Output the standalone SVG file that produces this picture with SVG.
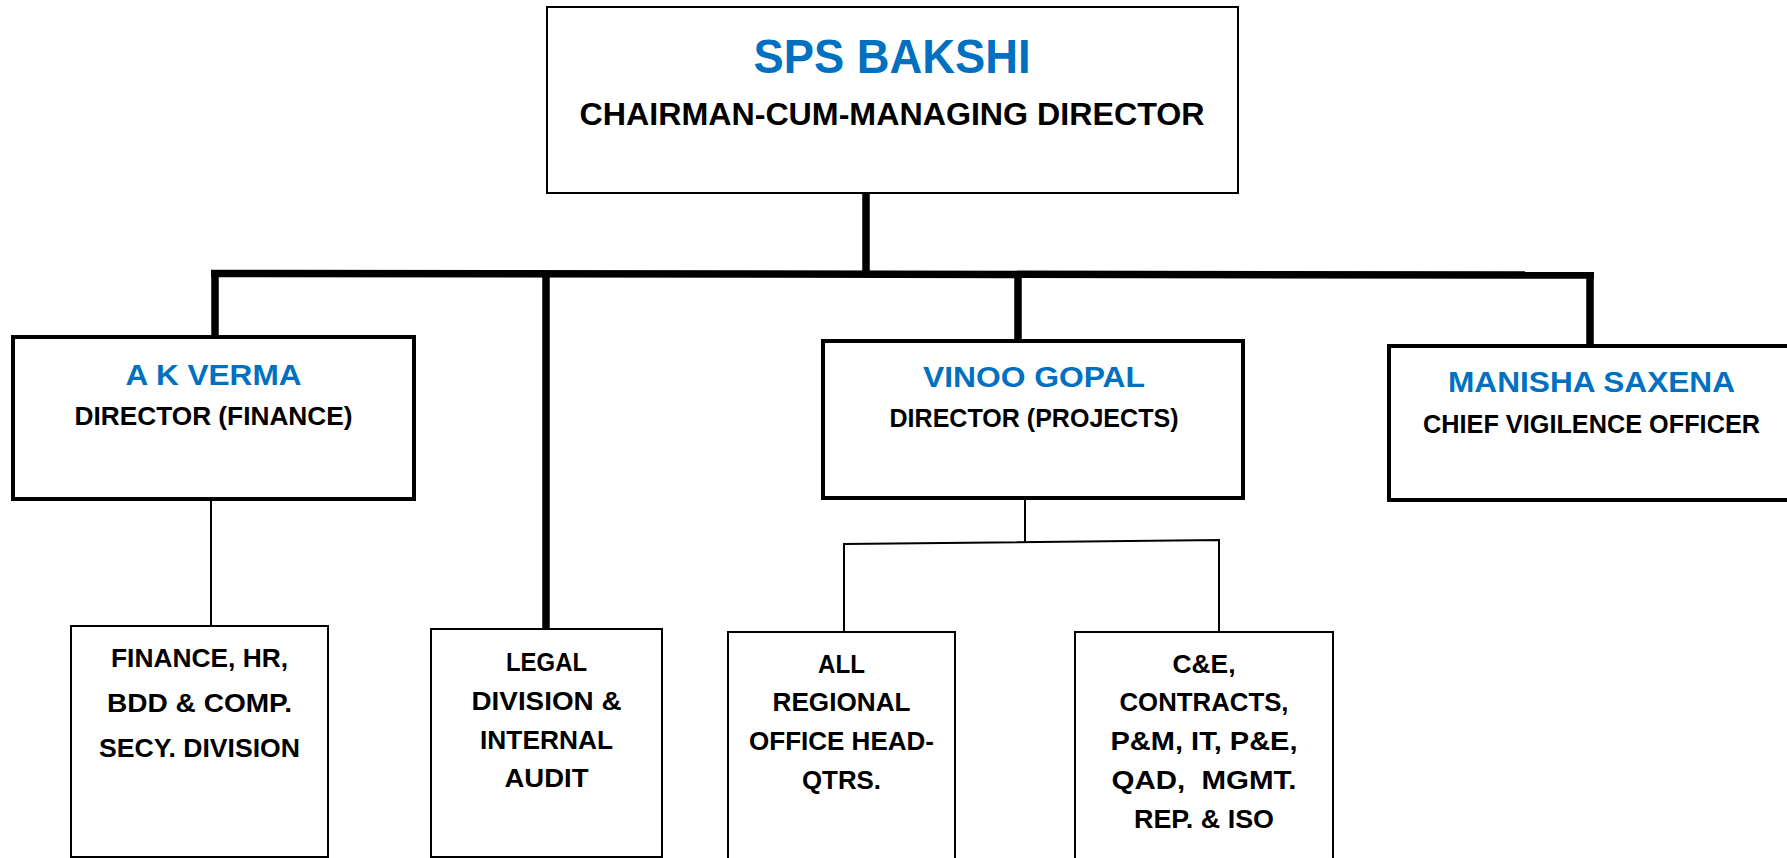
<svg xmlns="http://www.w3.org/2000/svg" width="1787" height="858" viewBox="0 0 1787 858">
<style>
  text { font-family: "Liberation Sans", Arial, sans-serif; font-weight: bold; text-anchor: middle; }
  .name { fill: #0070C0; }
  .title { fill: #000; }
  .sub { fill: #000; font-size: 26px; }
  .boxThin { fill: #fff; stroke: #000; stroke-width: 2; }
  .boxThick { fill: #fff; stroke: #000; stroke-width: 4; }
  .thick { stroke: #000; stroke-width: 7.5; fill: none; stroke-linecap: butt; }
  .thin { stroke: #000; stroke-width: 2; fill: none; }
</style>
<rect width="1787" height="858" fill="#fff"/>
<g id="connectors">
  <line class="thick" x1="866" y1="193" x2="866" y2="274"/>
  <line class="thick" x1="211" y1="273.5" x2="1594" y2="275"/>
  <line class="thick" x1="215" y1="273" x2="215" y2="337"/>
  <line class="thick" x1="546" y1="273" x2="546" y2="629"/>
  <line class="thick" x1="1018" y1="275" x2="1018" y2="341"/>
  <line class="thick" x1="1590" y1="275" x2="1590" y2="346"/>
  <line class="thin" x1="211" y1="499" x2="211" y2="626"/>
  <polyline class="thin" points="1025,498 1025,542"/>
  <polyline class="thin" points="844,632 844,544 1219,540 1219,632"/>
</g>
<g id="cmd">
  <rect class="boxThin" x="547" y="7" width="691" height="186"/>
  <text class="name" x="892" y="73" font-size="48" textLength="277" lengthAdjust="spacingAndGlyphs">SPS BAKSHI</text>
  <text class="title" x="892" y="125" font-size="32" textLength="625" lengthAdjust="spacingAndGlyphs">CHAIRMAN-CUM-MANAGING DIRECTOR</text>
</g>
<g id="dir-finance">
  <rect class="boxThick" x="13" y="337" width="401" height="162"/>
  <text class="name" x="213.5" y="385" font-size="29" textLength="176" lengthAdjust="spacingAndGlyphs">A K VERMA</text>
  <text class="title" x="213.5" y="425" font-size="26" textLength="278" lengthAdjust="spacingAndGlyphs">DIRECTOR (FINANCE)</text>
</g>
<g id="dir-projects">
  <rect class="boxThick" x="823" y="341" width="420" height="157"/>
  <text class="name" x="1034" y="387" font-size="29" textLength="222" lengthAdjust="spacingAndGlyphs">VINOO GOPAL</text>
  <text class="title" x="1034" y="427" font-size="26" textLength="289" lengthAdjust="spacingAndGlyphs">DIRECTOR (PROJECTS)</text>
</g>
<g id="cvo">
  <rect class="boxThick" x="1389" y="346" width="430" height="154"/>
  <text class="name" x="1591.5" y="392" font-size="30" textLength="287" lengthAdjust="spacingAndGlyphs">MANISHA SAXENA</text>
  <text class="title" x="1591.5" y="433" font-size="25" textLength="337" lengthAdjust="spacingAndGlyphs">CHIEF VIGILENCE OFFICER</text>
</g>
<g id="finance-div">
  <rect class="boxThin" x="71" y="626" width="257" height="231"/>
  <text class="sub" x="199.5" y="667" textLength="177" lengthAdjust="spacingAndGlyphs">FINANCE, HR,</text>
  <text class="sub" x="199.5" y="712" textLength="185" lengthAdjust="spacingAndGlyphs">BDD &amp; COMP.</text>
  <text class="sub" x="199.5" y="757" textLength="201" lengthAdjust="spacingAndGlyphs">SECY. DIVISION</text>
</g>
<g id="legal">
  <rect class="boxThin" x="431" y="629" width="231" height="228"/>
  <text class="sub" x="546.5" y="671" textLength="81" lengthAdjust="spacingAndGlyphs">LEGAL</text>
  <text class="sub" x="546.5" y="710" textLength="150" lengthAdjust="spacingAndGlyphs">DIVISION &amp;</text>
  <text class="sub" x="546.5" y="749" textLength="133" lengthAdjust="spacingAndGlyphs">INTERNAL</text>
  <text class="sub" x="546.5" y="787" textLength="84" lengthAdjust="spacingAndGlyphs">AUDIT</text>
</g>
<g id="regional">
  <rect class="boxThin" x="728" y="632" width="227" height="240"/>
  <text class="sub" x="841.5" y="673" textLength="47" lengthAdjust="spacingAndGlyphs">ALL</text>
  <text class="sub" x="841.5" y="711" textLength="138" lengthAdjust="spacingAndGlyphs">REGIONAL</text>
  <text class="sub" x="841.5" y="750" textLength="185" lengthAdjust="spacingAndGlyphs">OFFICE HEAD-</text>
  <text class="sub" x="841.5" y="789" textLength="79" lengthAdjust="spacingAndGlyphs">QTRS.</text>
</g>
<g id="ce">
  <rect class="boxThin" x="1075" y="632" width="258" height="240"/>
  <text class="sub" x="1204" y="673" textLength="63" lengthAdjust="spacingAndGlyphs">C&amp;E,</text>
  <text class="sub" x="1204" y="711" textLength="169" lengthAdjust="spacingAndGlyphs">CONTRACTS,</text>
  <text class="sub" x="1204" y="750" textLength="187" lengthAdjust="spacingAndGlyphs">P&amp;M, IT, P&amp;E,</text>
  <text class="sub" x="1204" y="789" textLength="185" lengthAdjust="spacingAndGlyphs" xml:space="preserve">QAD,  MGMT.</text>
  <text class="sub" x="1204" y="828" textLength="140" lengthAdjust="spacingAndGlyphs">REP. &amp; ISO</text>
</g>
</svg>
